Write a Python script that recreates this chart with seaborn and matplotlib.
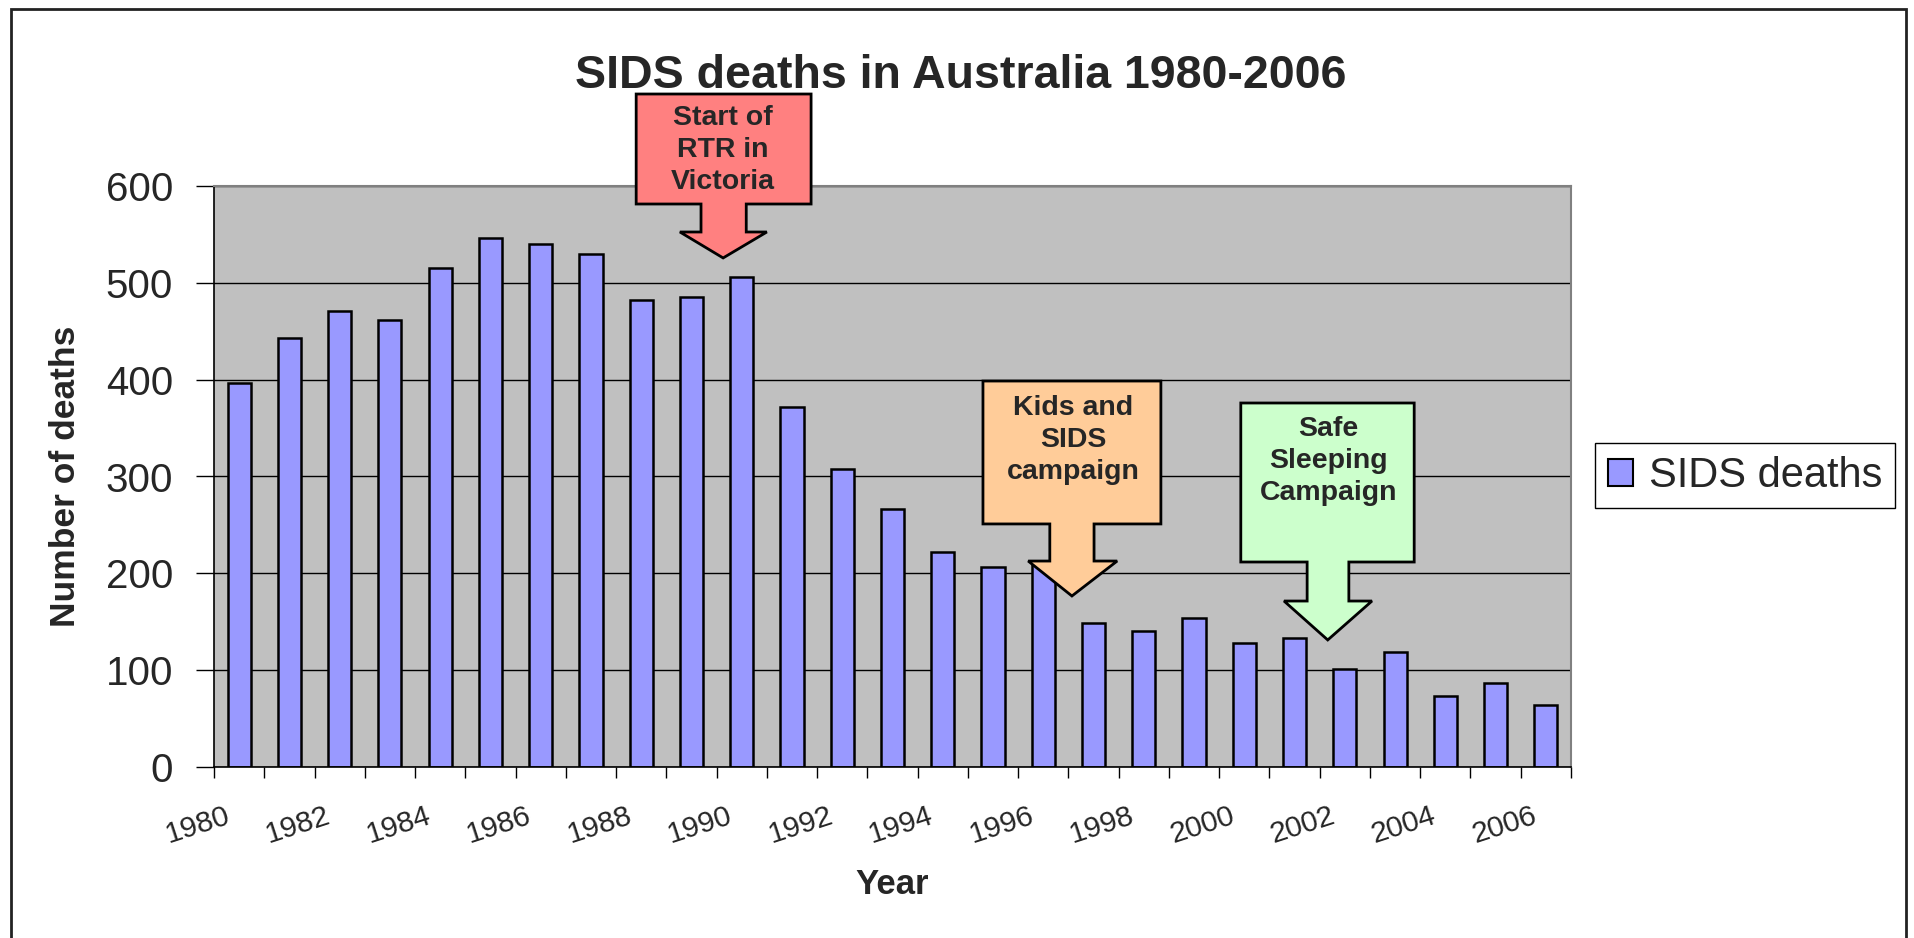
import matplotlib
matplotlib.use("Agg")
import numpy as np
import pandas as pd
import matplotlib.pyplot as plt
import matplotlib.transforms as mtransforms
from matplotlib.patches import Polygon, Patch, Rectangle
import seaborn as sns

# data
years = ["1980", "1981", "1982", "1983", "1984", "1985", "1986", "1987", "1988",
         "1989", "1990", "1991", "1992", "1993", "1994", "1995", "1996", "1997",
         "1998", "1999", "2000", "2001", "2002", "2003", "2004", "2005", "2006"]
deaths = [397, 443, 471, 462, 515, 546, 540, 530, 482, 485, 506, 372, 308, 266,
          222, 207, 212, 149, 140, 154, 128, 133, 101, 119, 73, 87, 64]
tick_labels = years[::2]

# callout annotations: (text, colour)
callout_texts = ["Start of\nRTR in\nVictoria", "Kids and\nSIDS\ncampaign", "Safe\nSleeping\nCampaign"]
callout_colors = ["#FF8080", "#FFCC99", "#CCFFCC"]

sns.set_theme(style="white")
plt.rcParams["font.family"] = ["Liberation Sans", "DejaVu Sans"]

W, H = 1915, 938
fig = plt.figure(figsize=(W / 100, H / 100), dpi=100)
ax = fig.add_axes([214 / W, 1 - 767 / H, 1357 / W, 581 / H])

df = pd.DataFrame({"Year": years, "Number of deaths": deaths})
sns.barplot(data=df, x="Year", y="Number of deaths", color="#9999FF", saturation=1,
            width=0.46, edgecolor="black", linewidth=1.8, ax=ax)

ax.set_facecolor("#C0C0C0")
ax.set_xlim(-0.5, 26.5)
ax.set_ylim(0, 600)
ax.set_yticks(range(0, 601, 100))
ax.yaxis.grid(True, color="black", lw=1)
ax.xaxis.grid(False)
ax.set_axisbelow(True)

for side in ["left", "bottom"]:
    ax.spines[side].set_color("black")
    ax.spines[side].set_linewidth(1.2)
for side in ["top", "right"]:
    ax.spines[side].set_color("#808080")
    ax.spines[side].set_linewidth(1.5)

ax.tick_params(axis="y", direction="out", length=13, width=1, pad=16.5,
               labelsize=29, left=True, color="black")

# labels every other year, tick marks between the bars
ax.set_xticks(range(0, 27, 2))
ax.set_xticklabels(tick_labels, rotation=18, ha="right", va="top", fontsize=21.5)
ax.set_xticks(np.arange(-0.5, 27, 1), minor=True)
ax.tick_params(axis="x", which="major", length=0, pad=25)
ax.tick_params(axis="x", which="minor", direction="out", length=8, width=1,
               bottom=True, color="black")
shift = mtransforms.ScaledTranslation(-6 / 100, 0, fig.dpi_scale_trans)
for lab in ax.get_xticklabels():
    lab.set_transform(lab.get_transform() + shift)

ax.set_xlabel("Year", fontsize=25, fontweight="bold")
ax.xaxis.set_label_coords(0.5, (767 - 884) / 581)
ax.xaxis.label.set_va("center")
ax.set_ylabel("Number of deaths", fontsize=25.5, fontweight="bold")
ax.yaxis.set_label_coords(-148 / 1357, 0.5)
ax.yaxis.label.set_va("center")

fig.text(961 / W, 1 - 88 / H, "SIDS deaths in Australia 1980-2006", ha="center",
         va="baseline", fontsize=33.5, fontweight="bold")


def callout(box, shaft, head, tip, color, text, text_xy):
    x0, x1, ytop, ybot = box
    sx0, sx1, sy = shaft
    hx0, hx1 = head
    tx, ty = tip
    verts = [(x0, ytop), (x1, ytop), (x1, ybot), (sx1, ybot), (sx1, sy), (hx1, sy),
             (tx, ty), (hx0, sy), (sx0, sy), (sx0, ybot), (x0, ybot)]
    ax.add_patch(Polygon(verts, closed=True, fc=color, ec="black", lw=2,
                         clip_on=False, zorder=5))
    ax.text(text_xy[0], text_xy[1], text, ha="center", va="center", fontsize=20.5,
            fontweight="bold", linespacing=1.3, zorder=6, clip_on=False)


callout((7.90, 11.38, 695.0, 581.4), (9.19, 10.09, 552.5), (8.77, 10.50),
        (9.63, 525.7), callout_colors[0], callout_texts[0], (9.63, 637.2))
callout((14.80, 18.34, 398.6, 251.0), (16.13, 17.01, 212.7), (15.70, 17.47),
        (16.57, 176.6), callout_colors[1], callout_texts[1], (16.59, 337.7))
callout((19.93, 23.38, 375.9, 211.7), (21.25, 22.08, 171.4), (20.79, 22.54),
        (21.66, 131.2), callout_colors[2], callout_texts[2], (21.68, 316.0))

handle = Patch(facecolor="#9999FF", edgecolor="black", lw=1.5, label="SIDS deaths")
leg = fig.legend(handles=[handle], loc="center left",
                 bbox_to_anchor=(1595 / W, 1 - 476 / H), fontsize=30, frameon=True,
                 fancybox=False, edgecolor="black", framealpha=1, borderpad=0.3,
                 handlelength=0.6, handleheight=0.6, handletextpad=0.4,
                 borderaxespad=0)
leg.get_frame().set_linewidth(1)

# chart border
fig.patches.append(Rectangle((11 / W, -0.05), (1906 - 11) / W, 1.05 - 9 / H,
                             transform=fig.transFigure, fill=False, lw=2,
                             ec="#222222"))

fig.savefig("out.png", dpi=100)
